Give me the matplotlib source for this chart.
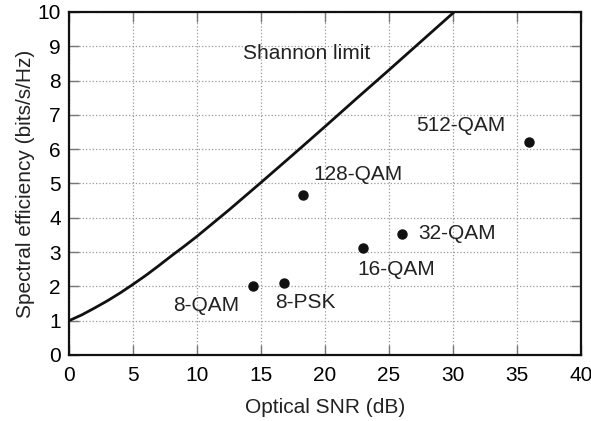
import matplotlib
matplotlib.use("Agg")
import matplotlib.pyplot as plt

plt.rcParams['font.family'] = ['Liberation Sans', 'DejaVu Sans']

# Shannon limit curve
snr_curve = [0, 1, 2, 3, 4, 5, 6, 7, 8, 9, 10, 12.5, 15, 17.5, 20, 22.5, 25, 27.5, 30]
se_curve = [1.0, 1.17, 1.37, 1.58, 1.81, 2.06, 2.32, 2.6, 2.89, 3.17, 3.46,
            4.23, 5.03, 5.84, 6.66, 7.49, 8.31, 9.14, 9.97]

# modulation formats
formats = ["8-QAM", "8-PSK", "128-QAM", "16-QAM", "32-QAM", "512-QAM"]
snr_pts = [14.4, 16.8, 18.3, 23.0, 26.0, 35.9]
se_pts = [2.0, 2.1, 4.65, 3.12, 3.53, 6.21]
# label anchor (left edge, vertical center)
label_x = [8.1, 16.1, 19.1, 22.5, 27.3, 27.1]
label_y = [1.43, 1.52, 5.25, 2.48, 3.55, 6.68]

fig = plt.figure(figsize=(5.91, 4.21), dpi=100)
ax = fig.add_axes([0.1168, 0.1568, 0.8663, 0.8147])

ax.plot(snr_curve, se_curve, color='#111111', lw=2.0, zorder=3)
ax.plot(snr_pts, se_pts, 'o', color='#111111', ms=6.5, zorder=4)

for name, tx, ty in zip(formats, label_x, label_y):
    ax.text(tx, ty, name, fontsize=15, ha='left', va='center', color='#222222')
ax.text(13.6, 8.8, "Shannon limit", fontsize=15, ha='left', va='center', color='#222222')

ax.set_xlim(0, 40)
ax.set_ylim(0, 10)
ax.set_xticks(range(0, 41, 5))
ax.set_yticks(range(0, 11))
ax.grid(True, linestyle=':', color='#999999', lw=0.9)
ax.tick_params(direction='in', length=7, width=1.0, color='#777777',
               top=True, right=True, labelsize=15, pad=6)
ax.tick_params(axis='x', pad=8)
for s in ax.spines.values():
    s.set_linewidth(1.6)
    s.set_color('#111111')

ax.set_xlabel("Optical SNR (dB)", fontsize=15, color='#222222', labelpad=9)
ax.set_ylabel("Spectral efficiency (bits/s/Hz)", fontsize=15, color='#222222', labelpad=2)

fig.savefig("out.png", dpi=100)
